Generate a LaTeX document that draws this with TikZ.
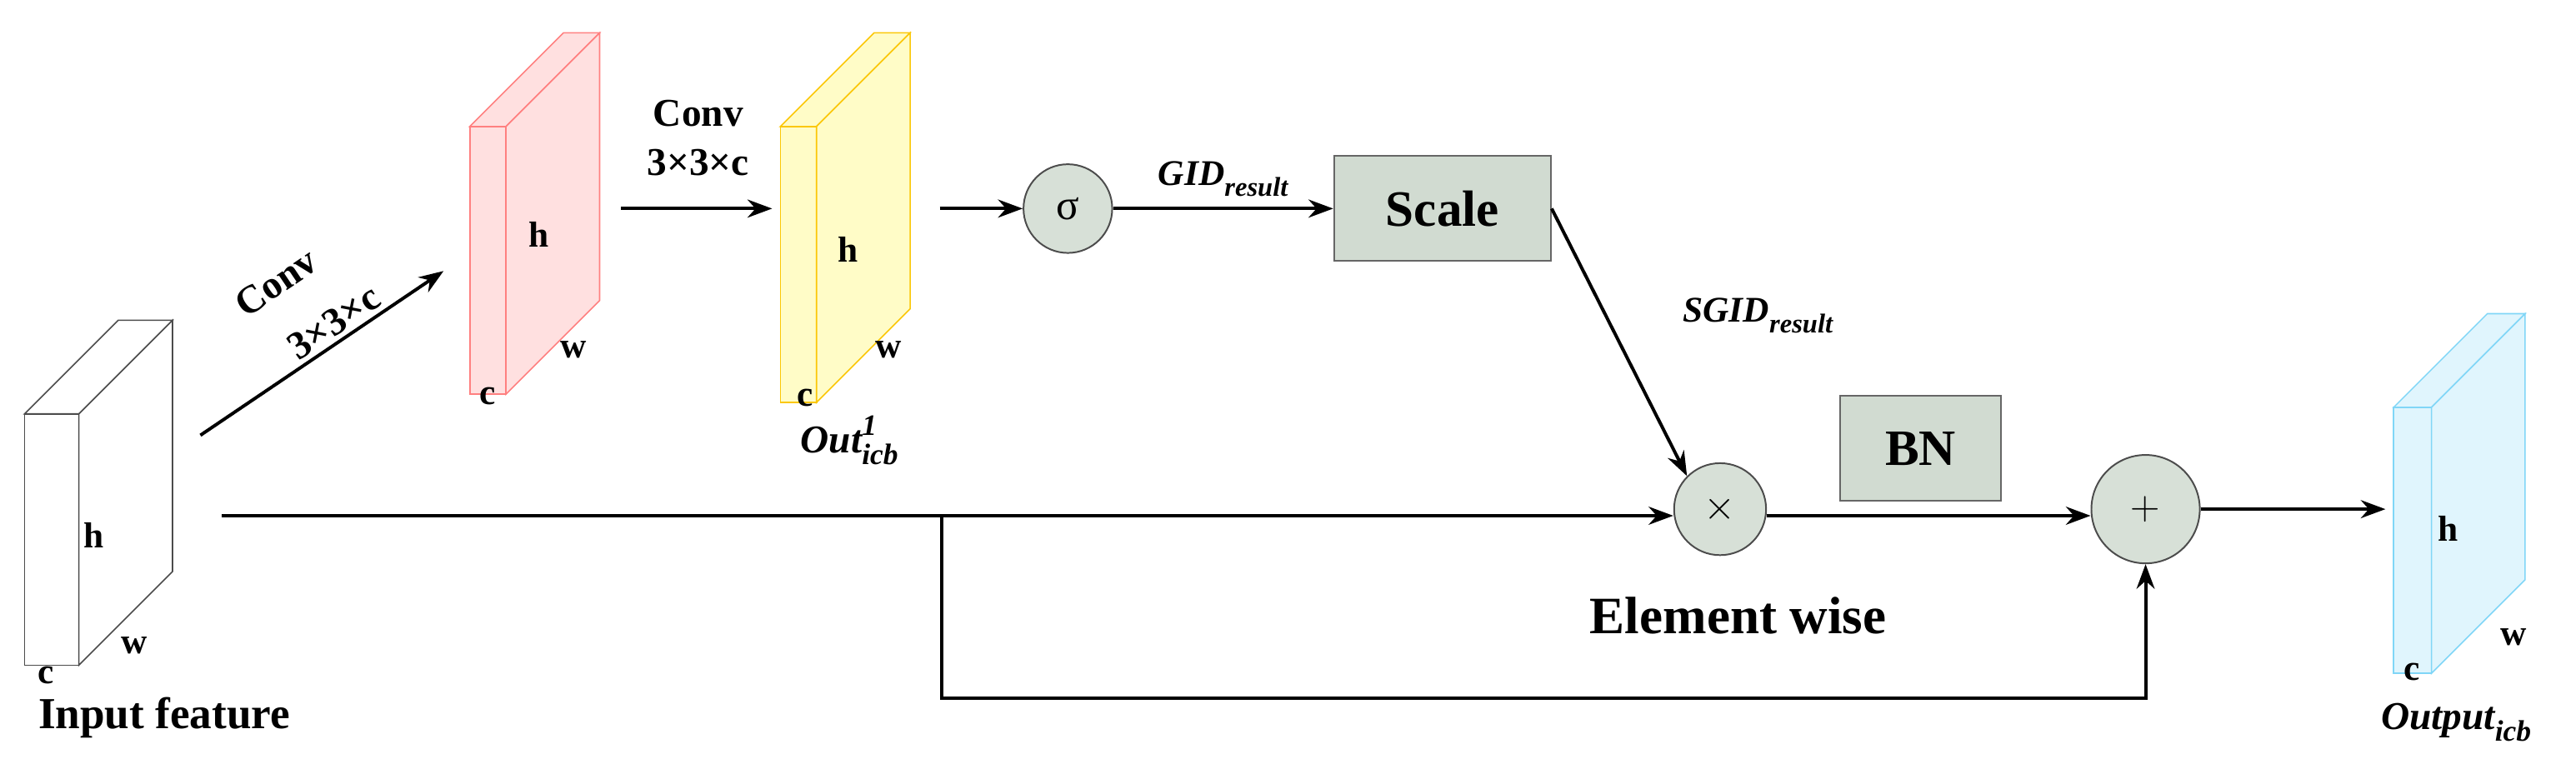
\documentclass[tikz,border=0pt]{standalone}
\usepackage{fontspec}
\setmainfont{Liberation Serif}
\usetikzlibrary{arrows.meta}
\newcommand\bsub[1]{\raisebox{-0.3em}{\scalebox{0.75}{#1}}}
\newcommand\bsup[1]{\raisebox{0.45em}{\scalebox{0.75}{#1}}}
\begin{document}
\begin{tikzpicture}[x=1pt,y=-1pt,
 arr/.style={line width=2pt,-{Stealth[length=15pt,width=11pt]}},
 lab/.style={font=\fontsize{22}{24}\selectfont\bfseries,inner sep=0},
 op/.style={circle,draw=black!70,fill=green!12!gray!28,line width=1pt},
 bx/.style={draw=black!60,fill=green!12!gray!32,line width=1pt}]
\useasboundingbox (0,0) rectangle (1568,471);
\newcommand\cube[6]{%
 \filldraw[draw=#6,fill=#5,line width=0.8pt] (#1,#2) rectangle (#3,#4);
 \filldraw[draw=#6,fill=#5,line width=0.8pt] (#1,#2)--(#3,#2)--(#3+57,#2-57)--(#1+57,#2-57)--cycle;
 \filldraw[draw=#6,fill=#5,line width=0.8pt] (#3,#2)--(#3+57,#2-57)--(#3+57,#4-57)--(#3,#4)--cycle;}
\cube{15}{252}{48}{405}{white}{black!70}
\cube{286}{77}{308}{240}{red!12}{red!50}
\cube{475}{77}{497}{245}{yellow!22}{yellow!60!orange}
\cube{1457}{248}{1480}{410}{cyan!12}{cyan!50}
\node[lab] (h1) at (57,326) {h}; \node[lab] (w1) at (82,393) {w}; \node[lab] (c1) at (28,411) {c};
\node[font=\fontsize{27}{29}\selectfont\bfseries,inner sep=0] (inp) at (100,437) {Input feature};
\node[lab] (h2) at (328,143) {h}; \node[lab] (w2) at (349,213) {w}; \node[lab] (c2) at (297,241) {c};
\node[lab] (h3) at (516,152) {h}; \node[lab] (w3) at (541,213) {w}; \node[lab] (c3) at (490,242) {c};
\node[font=\fontsize{24}{26}\selectfont\bfseries\itshape,inner sep=0] (o1) at (517,268) {Out\rlap{\bsup{1}}\bsub{icb}};
\node[lab] (h4) at (1490,322) {h}; \node[lab] (w4) at (1530,388) {w}; \node[lab] (c4) at (1468,409) {c};
\node[font=\fontsize{24}{26}\selectfont\bfseries\itshape,inner sep=0] (o2) at (1495,440) {Output\bsub{icb}};
\node[op,minimum size=54pt] (sig) at (650,127) {\fontsize{26}{28}\selectfont σ};
\node[bx,minimum width=132pt,minimum height=64pt] (sc) at (878,127) {\fontsize{31}{33}\selectfont\bfseries Scale};
\node[op,minimum size=56pt,inner sep=0] (mul) at (1047,310) {\fontsize{60}{60}\selectfont$\times$};
\node[bx,minimum width=98pt,minimum height=64pt] (bn) at (1169,273) {\fontsize{31}{33}\selectfont\bfseries BN};
\node[op,minimum size=66pt,inner sep=0] (add) at (1306,310) {\fontsize{72}{72}\selectfont$+$};
\node[font=\fontsize{32}{34}\selectfont\bfseries,inner sep=0] (ew) at (1058,375) {Element wise};
\coordinate (a0) at (122,265); \coordinate (a1) at (270,165);
\draw[arr] (a0)--(a1);
\node[font=\fontsize{24}{26}\selectfont\bfseries,rotate=34,inner sep=0] (cv1a) at (168,172) {Conv};
\node[font=\fontsize{24}{26}\selectfont\bfseries,rotate=34,inner sep=0] (cv1b) at (203,196) {3×3×c};
\coordinate (b0) at (378,127); \coordinate (b1) at (470,127);
\draw[arr] (b0)--(b1);
\node[font=\fontsize{24}{26}\selectfont\bfseries,inner sep=0] (cv2a) at (425,69) {Conv};
\node[font=\fontsize{24}{26}\selectfont\bfseries,inner sep=0] (cv2b) at (425,99) {3×3×c};
\coordinate (s0) at (572,127);
\draw[arr] (s0)--(sig);
\draw[arr] (sig)--(sc) node[midway,above=3pt,font=\fontsize{22}{24}\selectfont\bfseries\itshape] {GID\bsub{result}};
\draw[arr] (sc.east)--(mul.north west);
\node[font=\fontsize{22}{24}\selectfont\bfseries\itshape,inner sep=0] (sg) at (1070,192) {SGID\bsub{result}};
\coordinate (m0) at (135,314); \coordinate (br) at (573,314);
\draw[arr] (m0)--(mul.west|-m0);
\draw[arr] (br)--(573,425)--(1306,425)--(add.south);
\draw[arr] (mul.east|-m0)--(add.west|-m0);
\coordinate (o) at (1452,310);
\draw[arr] (add)--(o);
\end{tikzpicture}
\end{document}
